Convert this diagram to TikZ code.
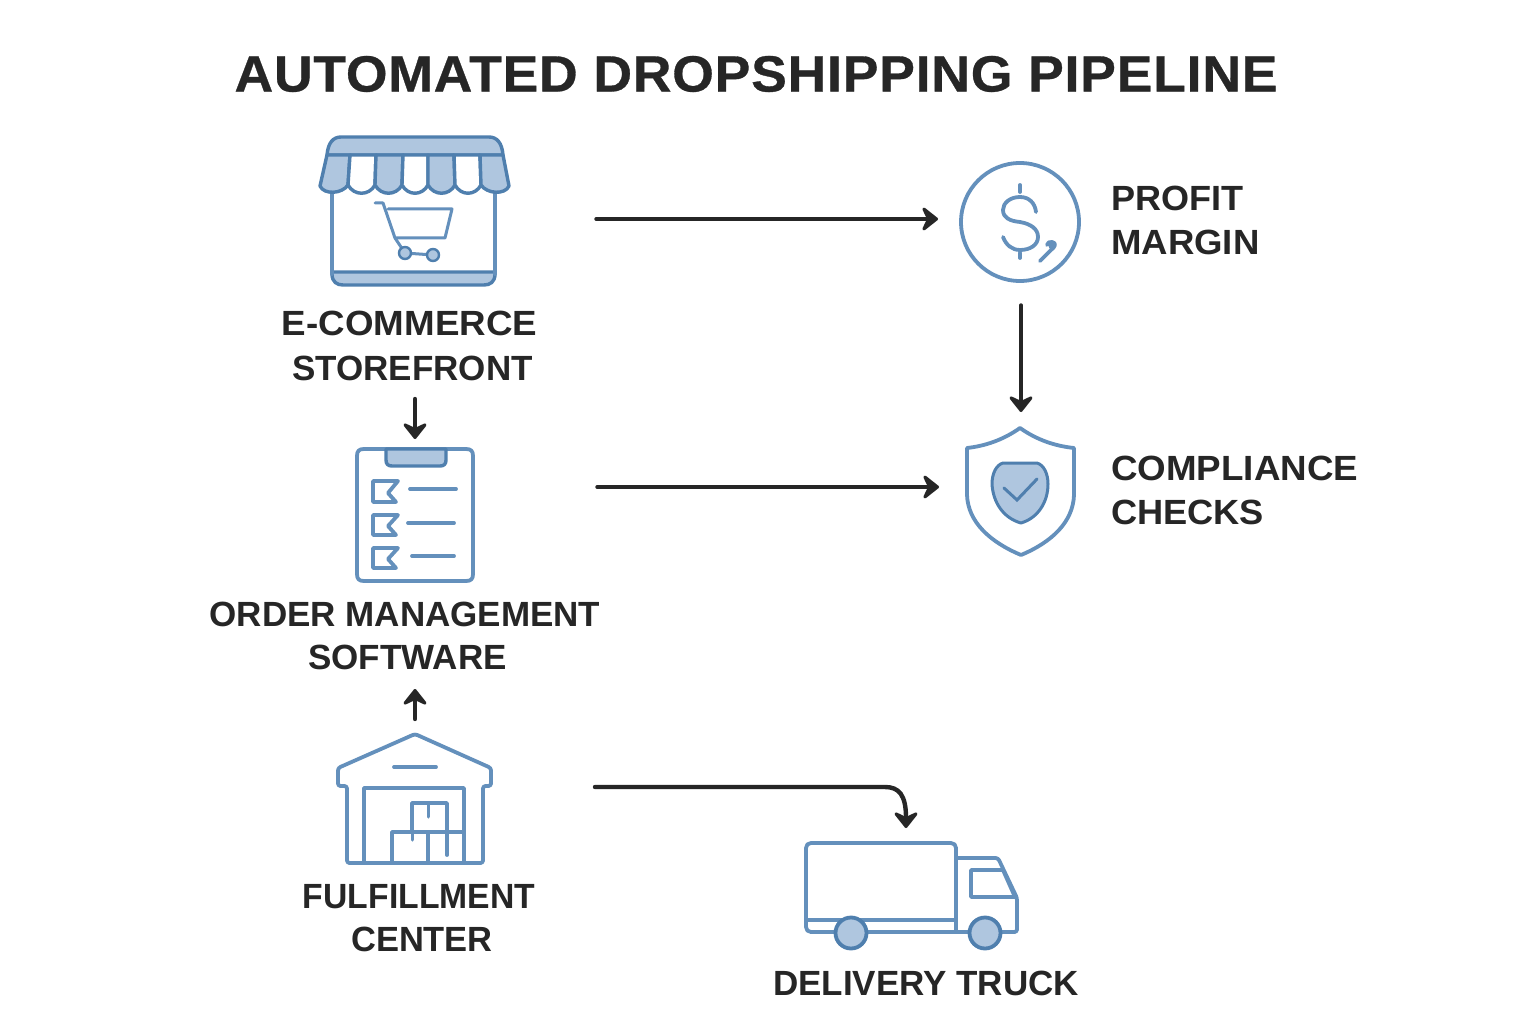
\documentclass[tikz,border=0pt]{standalone}
\usepackage{fontspec}
\setmainfont{Liberation Sans}
\usetikzlibrary{arrows.meta}
\definecolor{ink}{HTML}{262626}
\definecolor{iconblue}{HTML}{6490BC}
\definecolor{deepblue}{HTML}{4F7FAE}
\definecolor{softblue}{HTML}{AFC6DF}
\newcommand\lsp[2]{{\addfontfeatures{FakeStretch=#1}#2}}
\tikzset{
  icon/.style={draw=iconblue,line width=3.8pt,line join=round,line cap=round},
  iconfill/.style={draw=deepblue,fill=softblue,line width=3.4pt,line join=round,line cap=round},
  flow/.style={draw=ink,line width=3.4pt,line cap=round,-{Stealth[length=19pt,width=30pt,inset=7pt,line width=3pt,round]}},
  flowbold/.style={flow,line width=4.4pt},
  lab/.style={font=\bfseries\fontsize{35}{44}\selectfont,text=ink,align=center,inner sep=0pt,anchor=center},
  labl/.style={font=\bfseries\fontsize{35}{44}\selectfont,text=ink,align=left,inner sep=0pt,anchor=west},
  ttl/.style={font=\bfseries\fontsize{51}{60}\selectfont,text=ink,inner sep=0pt,anchor=center},
}
\begin{document}
\begin{tikzpicture}[x=1pt,y=-1pt]
\useasboundingbox (0,0) rectangle (1536,1024);
\fill[white] (0,0) rectangle (1536,1024);

% Title
\node[ttl] (title) at (756,74) {\addfontfeatures{FakeStretch=1.05,LetterSpace=1.5,FakeBold=0.6}AUTOMATED DROPSHIPPING PIPELINE};

% Storefront icon
\draw[iconfill] (332,272) -- (495,272) -- (495,274) .. controls (495,282) and (490,285) .. (484,285) -- (343,285) .. controls (337,285) and (332,282) .. (332,274) -- cycle;
\draw[icon] (332,188) -- (332,274);
\draw[icon] (495,188) -- (495,274);
\draw[iconfill] (327,155) .. controls (328,143) and (333,137) .. (341,137) -- (489,137) .. controls (497,137) and (502,143) .. (503,155) -- cycle;
% awning stripes
\draw[iconfill] (327,155) -- (350,155) -- (348,185) .. controls (342,194) and (324,195) .. (320,186) -- cycle;
\draw[icon,draw=deepblue,line width=3.4pt,fill=white] (350,155) -- (376,155) -- (375,185) .. controls (369,196) and (354,196) .. (348,185) -- cycle;
\draw[iconfill] (376,155) -- (403,155) -- (402,185) .. controls (396,196) and (381,196) .. (375,185) -- cycle;
\draw[icon,draw=deepblue,line width=3.4pt,fill=white] (403,155) -- (428,155) -- (428,185) .. controls (422,196) and (408,196) .. (402,185) -- cycle;
\draw[iconfill] (428,155) -- (454,155) -- (455,185) .. controls (449,196) and (434,196) .. (428,185) -- cycle;
\draw[icon,draw=deepblue,line width=3.4pt,fill=white] (454,155) -- (480,155) -- (481,185) .. controls (475,196) and (461,196) .. (455,185) -- cycle;
\draw[iconfill] (480,155) -- (503,155) -- (509,186) .. controls (505,195) and (487,194) .. (481,185) -- cycle;
% cart
\draw[icon,line width=3pt] (375,203) -- (383,203) -- (395,238) -- (445,238) -- (452,209) -- (388,209);
\draw[icon,line width=3pt] (395,238) -- (405,253) -- (433,255);
\draw[iconfill,line width=2.4pt] (405,253) circle[radius=6];
\draw[iconfill,line width=2.4pt] (433,255) circle[radius=6];

% Clipboard icon
\draw[icon] (364,449) -- (466,449) .. controls (471,449) and (473,451) .. (473,456) -- (473,574) .. controls (473,579) and (471,581) .. (466,581) -- (364,581) .. controls (359,581) and (357,579) .. (357,574) -- (357,456) .. controls (357,451) and (359,449) .. (364,449) -- cycle;
\draw[iconfill] (386,449) -- (446,449) -- (446,460) .. controls (446,464) and (444,466) .. (440,466) -- (392,466) .. controls (388,466) and (386,464) .. (386,460) -- cycle;
\draw[icon] (373,481) -- (398,481) -- (388,493) -- (396,502) -- (373,502) -- cycle;
\draw[icon] (373,515) -- (398,515) -- (388,526) -- (396,535) -- (373,535) -- cycle;
\draw[icon] (373,548) -- (398,548) -- (388,559) -- (396,568) -- (373,568) -- cycle;
\draw[icon] (410,489) -- (456,489);
\draw[icon] (408,523) -- (454,523);
\draw[icon] (412,556) -- (454,556);

% Warehouse icon
\draw[icon,rounded corners=2.5pt] (415,734) -- (491,768) -- (491,786) -- (483,786) -- (483,863) -- (347,863) -- (347,786) -- (338,786) -- (338,768) -- cycle;
\draw[icon] (394,767) -- (436,767);
\draw[icon] (364,863) -- (364,788) -- (464,788) -- (464,863);
\draw[icon] (412,832) -- (412,803) -- (447,803) -- (447,855);
\draw[icon] (392,863) -- (392,832) -- (464,832);
\draw[icon] (428,832) -- (428,863);
\draw[icon,line width=3pt] (428,805) -- (428,817);
\draw[icon,line width=3pt] (412,832) -- (412,840);

% Truck icon
\draw[icon] (835,932) -- (811,932) .. controls (808,932) and (806,930) .. (806,927) -- (806,848) .. controls (806,845) and (808,843) .. (811,843) -- (951,843) .. controls (954,843) and (956,845) .. (956,848) -- (956,932);
\draw[icon] (806,920) -- (956,920);
\draw[icon] (867,932) -- (969,932);
\draw[icon,rounded corners=2.5pt] (956,858) -- (998,858) -- (1017,898) -- (1017,932) -- (1002,932);
\draw[icon] (971,870) -- (1003,870) -- (1015,897) -- (971,897) -- cycle;
\draw[iconfill,line width=3.8pt] (851,933) circle[radius=15.5];
\draw[iconfill,line width=3.8pt] (985,933) circle[radius=15.5];

% Dollar icon
\draw[icon] (1020,222) circle[radius=59];
\draw[icon] (1036,212) .. controls (1035,203) and (1029,197) .. (1020,197) .. controls (1010,197) and (1003,203) .. (1003,210) .. controls (1003,218) and (1010,221) .. (1020,222) .. controls (1031,224) and (1038,229) .. (1038,237) .. controls (1038,245) and (1030,250) .. (1020,250) .. controls (1012,250) and (1006,245) .. (1003,237);
\draw[icon] (1020,185) -- (1020,192);
\draw[icon] (1020,253) -- (1020,258);
\draw[icon] (1040,261) -- (1051,250) .. controls (1055,247) and (1057,243) .. (1052,242) .. controls (1049,241) and (1048,243) .. (1047,245);
\fill[iconblue] (1052,246) circle[radius=3.5];

% Shield icon
\draw[icon] (1020,428) .. controls (1003,440) and (985,446) .. (967,448) -- (967,495) .. controls (968,522) and (990,542) .. (1021,555) .. controls (1052,542) and (1073,522) .. (1074,495) -- (1074,448) .. controls (1055,446) and (1037,440) .. (1020,428) -- cycle;
\draw[iconfill,line width=3pt] (1003,463) -- (1037,463) .. controls (1044,465) and (1048,474) .. (1048,484) .. controls (1048,502) and (1038,518) .. (1021,523) .. controls (1003,518) and (993,502) .. (992,484) .. controls (992,474) and (996,465) .. (1003,463) -- cycle;
\draw[draw=deepblue,line width=3pt,line cap=round,line join=miter] (1004,488) -- (1017,500) -- (1037,479);

% Connector end points
\coordinate (storeOut) at (596,219);
\coordinate (profitIn) at (938,219);
\coordinate (profitOut) at (1021,305);
\coordinate (shieldIn) at (1021,412);
\coordinate (orderOut) at (597,487);
\coordinate (checkIn) at (939,487);
\coordinate (storeDown) at (415,399);
\coordinate (orderIn) at (415,439);
\coordinate (fulfilUp) at (415,719);
\coordinate (softwareIn) at (415,689);
\coordinate (fulfilOut) at (595,787);
\coordinate (truckIn) at (906,828);

% Connectors
\draw[flow] (storeOut) -- (profitIn);
\draw[flow] (profitOut) -- (shieldIn);
\draw[flow] (orderOut) -- (checkIn);
\draw[flowbold] (storeDown) -- (orderIn);
\draw[flowbold] (fulfilUp) -- (softwareIn);
\draw[flowbold] (fulfilOut) -- (885,787) .. controls (899,787) and (906,795) .. (truckIn);

% Labels
\node[lab] (store) at (409.5,345.5) {\lsp{1.05}{E-COMMERCE}\\[1pt]\hspace*{6pt}STOREFRONT};
\node[lab] (order) at (405,636) {ORDER MANAGEMENT\\[-1.5pt]\hspace*{5pt}SOFTWARE};
\node[lab] (fulfil) at (419,918.5) {\lsp{0.963}{FULFILLMENT}\\[-1pt]\hspace*{6pt}\lsp{0.985}{CENTER}};
\node[lab] (truck) at (926,983) {DELIVERY TRUCK};
\node[labl] (profit) at (1111,220) {\lsp{1.03}{PROFIT}\\\lsp{1.045}{MARGIN}};
\node[labl] (comply) at (1111,490) {\lsp{1.05}{COMPLIANCE}\\\lsp{1.035}{CHECKS}};
\end{tikzpicture}
\end{document}
